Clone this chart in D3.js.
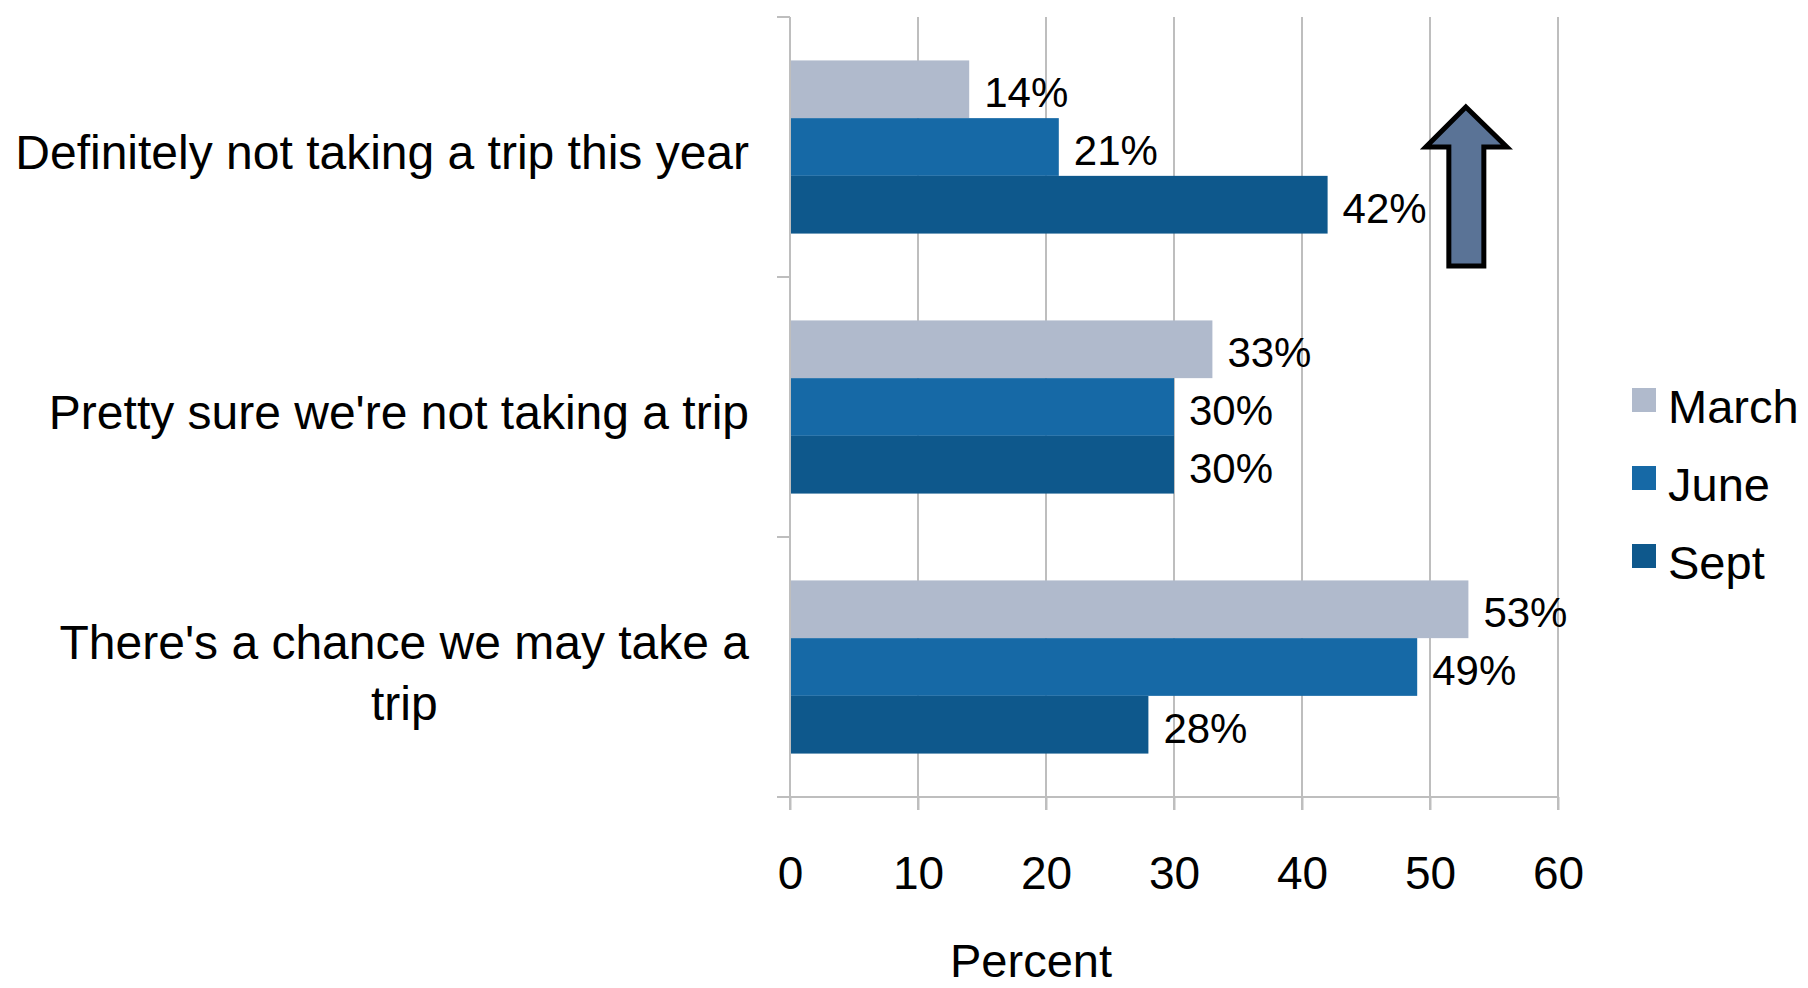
<!DOCTYPE html>
<html>
<head>
<meta charset="utf-8">
<script src="https://cdn.jsdelivr.net/npm/d3@7"></script>
<style>
  html, body { margin: 0; padding: 0; background: #ffffff; }
  svg { display: block; font-family: "Liberation Sans", Arial, sans-serif; }
</style>
</head>
<body>
<svg id="chart" width="1808" height="988"></svg>
<script>
// Survey answers about summer travel plans, by survey wave
const categories = [
  "Definitely not taking a trip this year",
  "Pretty sure we're not taking a trip",
  "There's a chance we may take a trip"
];
const seriesNames = ["March", "June", "Sept"];
const marchValues = [14, 33, 53];
const juneValues  = [21, 30, 49];
const septValues  = [42, 30, 28];
const tickValues  = [0, 10, 20, 30, 40, 50, 60];
const axisTitle   = "Percent";

const seriesValues = [marchValues, juneValues, septValues];
const colors = ["#b0bacc", "#1669a6", "#0e588c"];

// Wrapped category label lines
const labelLines = {
  "There's a chance we may take a trip": ["There's a chance we may take a", "trip"]
};

const svg = d3.select("#chart");
const plot = { left: 790, right: 1558, top: 17, bottom: 797 };

const x = d3.scaleLinear().domain([0, 60]).range([plot.left, plot.right]);
const y = d3.scaleBand().domain(categories).range([plot.top, plot.bottom]).padding(0);
const inner = d3.scaleBand().domain(seriesNames)
  .range([y.bandwidth() * 0.167, y.bandwidth() * 0.833]).padding(0);

const gridColor = "#bebebe";

// vertical gridlines
svg.append("g").selectAll("line")
  .data(tickValues.filter(d => d > 0))
  .join("line")
  .attr("x1", d => x(d)).attr("x2", d => x(d))
  .attr("y1", plot.top).attr("y2", plot.bottom + 13)
  .attr("stroke", gridColor).attr("stroke-width", 2);

// bars
const rows = categories.map((c, i) => ({ cat: c, vals: seriesNames.map((s, j) => ({ s, j, v: seriesValues[j][i] })) }));
const groups = svg.append("g").selectAll("g")
  .data(rows).join("g")
  .attr("transform", d => `translate(0,${y(d.cat)})`);

groups.selectAll("rect")
  .data(d => d.vals).join("rect")
  .attr("x", x(0))
  .attr("y", d => inner(d.s))
  .attr("width", d => x(d.v) - x(0))
  .attr("height", inner.bandwidth())
  .attr("fill", d => colors[d.j]);

// value labels
groups.selectAll("text")
  .data(d => d.vals).join("text")
  .attr("x", d => x(d.v) + 15)
  .attr("y", d => inner(d.s) + inner.bandwidth() / 2 + 3)
  .attr("dy", "0.36em")
  .attr("font-size", 42)
  .attr("fill", "#000")
  .text(d => d.v + "%");

// left axis line with category ticks
const axisG = svg.append("g");
axisG.append("line")
  .attr("x1", x(0)).attr("x2", x(0))
  .attr("y1", plot.top).attr("y2", plot.bottom + 13)
  .attr("stroke", gridColor).attr("stroke-width", 2);
const yTicks = categories.map(c => y(c)).concat([plot.bottom]);
axisG.selectAll("line.yt").data(yTicks).join("line").attr("class", "yt")
  .attr("x1", x(0) - 13).attr("x2", x(0))
  .attr("y1", d => d).attr("y2", d => d)
  .attr("stroke", gridColor).attr("stroke-width", 2);

// bottom axis
const xAxis = d3.axisBottom(x).tickValues(tickValues).tickSize(13).tickPadding(0).tickFormat(d3.format("d"));
const xg = svg.append("g").attr("transform", `translate(0,${plot.bottom})`).call(xAxis);
xg.select(".domain").remove();
xg.selectAll(".tick line").attr("stroke", gridColor).attr("stroke-width", 2);
xg.selectAll(".tick text")
  .attr("font-family", "Liberation Sans, Arial, sans-serif")
  .attr("font-size", 46).attr("fill", "#000")
  .attr("dy", null).attr("y", 92);
svg.append("line")
  .attr("x1", x(0) - 13).attr("x2", plot.right)
  .attr("y1", plot.bottom).attr("y2", plot.bottom)
  .attr("stroke", gridColor).attr("stroke-width", 2);

// axis title
svg.append("text")
  .attr("x", 1031).attr("y", 977)
  .attr("text-anchor", "middle")
  .attr("font-size", 47)
  .text(axisTitle);

// category labels, right aligned; wrapped lines centred within the block
const labelRight = 749;
const catG = svg.append("g");
categories.forEach(c => {
  const lines = labelLines[c] || [c];
  const cy = y(c) + y.bandwidth() / 2 + 5;
  const lh = 61;
  const t = catG.append("text").attr("font-size", 48).attr("fill", "#000");
  lines.forEach((ln, k) => {
    t.append("tspan").attr("y", cy + (k - (lines.length - 1) / 2) * lh).attr("dy", "0.36em").text(ln);
  });
  if (lines.length === 1) {
    t.attr("text-anchor", "end").selectAll("tspan").attr("x", labelRight);
  } else {
    const widths = [];
    t.selectAll("tspan").each(function () { widths.push(this.getComputedTextLength()); });
    const cx = labelRight - d3.max(widths) / 2;
    t.attr("text-anchor", "middle").selectAll("tspan").attr("x", cx);
  }
});

// legend
const legend = svg.append("g").attr("transform", "translate(1632,388)");
seriesNames.forEach((s, i) => {
  const g = legend.append("g").attr("transform", `translate(0,${i * 78})`);
  g.append("rect").attr("width", 24).attr("height", 24).attr("fill", colors[i]);
  g.append("text").attr("x", 36).attr("y", 35).attr("font-size", 47).text(s);
});

// upward arrow annotation beside the first group
const ax = x(52.8), ay = y(categories[0]);
const arrow = [
  [ax, ay + 90], [ax + 41, ay + 130], [ax + 18, ay + 130], [ax + 18, ay + 249],
  [ax - 17, ay + 249], [ax - 17, ay + 130], [ax - 40, ay + 130]
];
svg.append("path")
  .attr("d", "M" + arrow.map(p => p.join(",")).join("L") + "Z")
  .attr("fill", "#5a7396")
  .attr("stroke", "#000")
  .attr("stroke-width", 5)
  .attr("stroke-linejoin", "miter");
</script>
</body>
</html>
